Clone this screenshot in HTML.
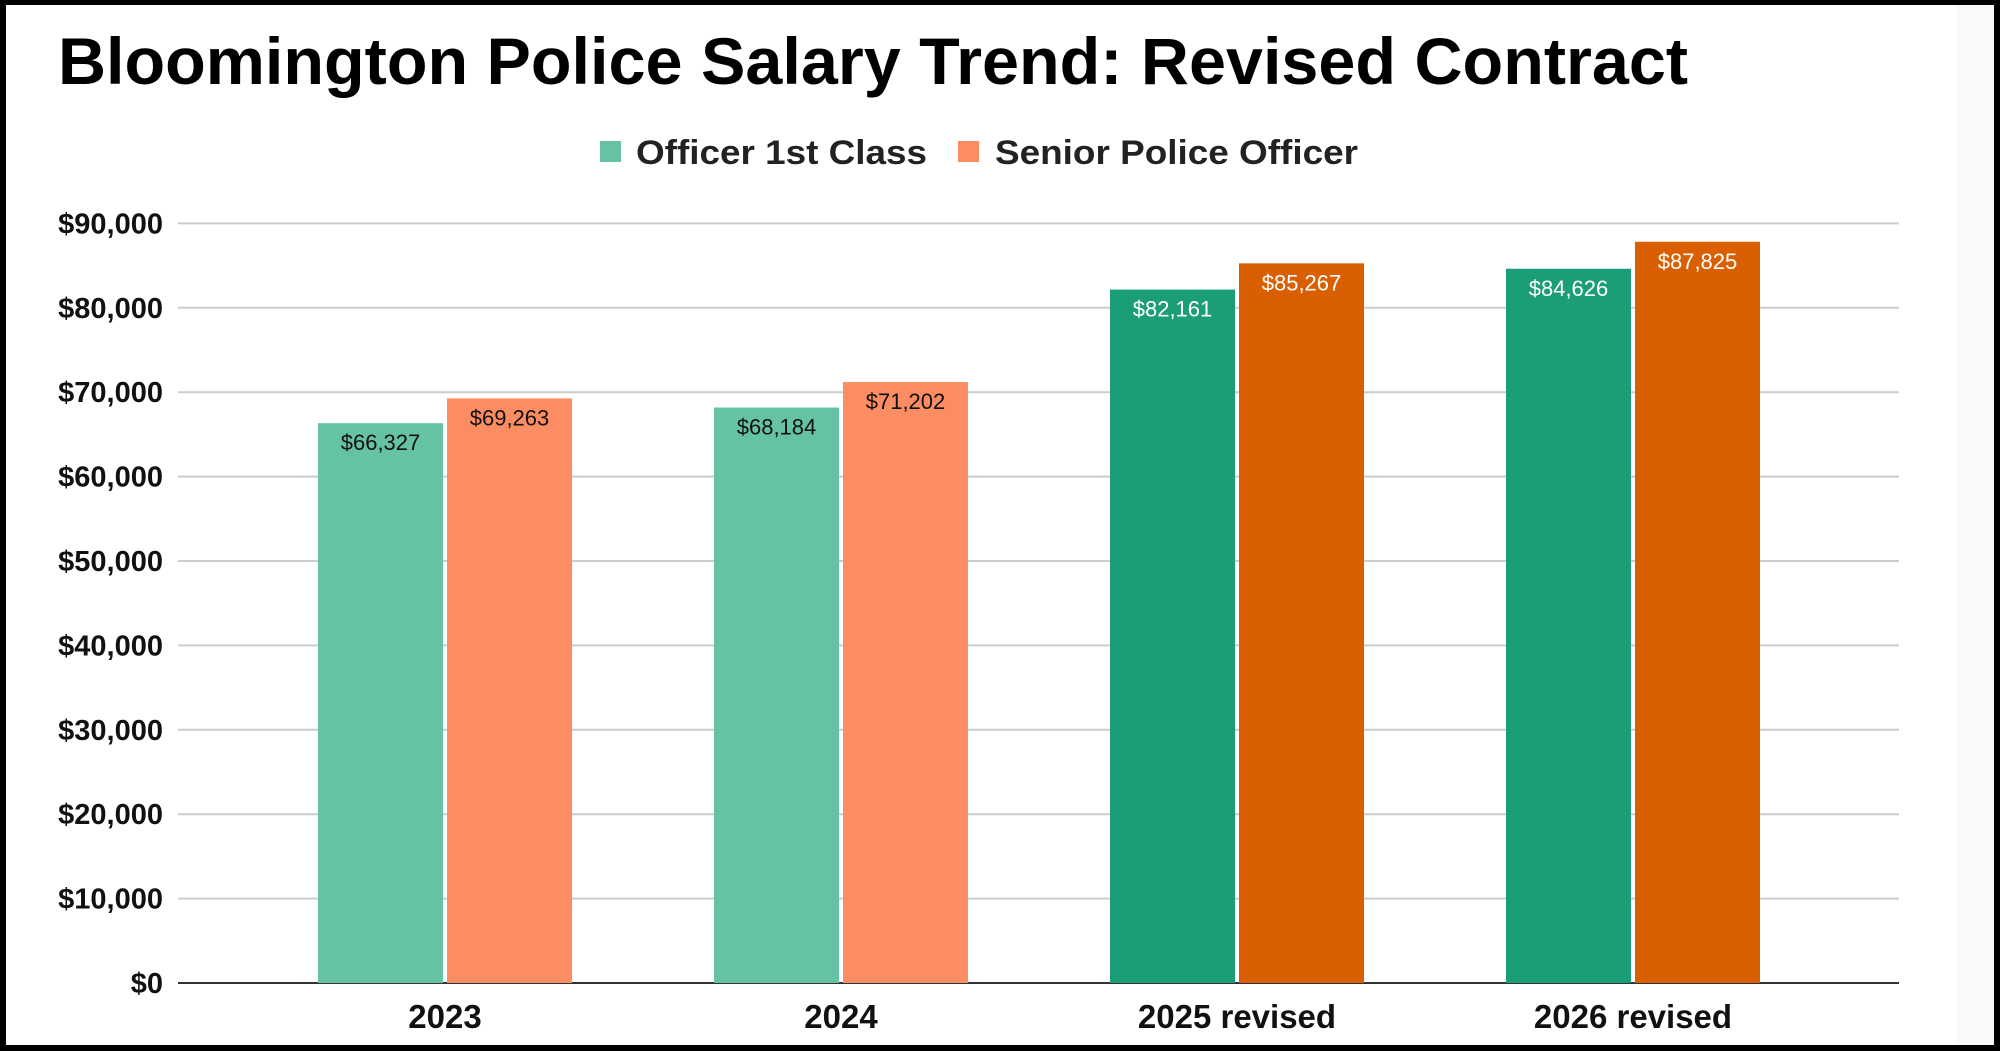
<!DOCTYPE html>
<html><head><meta charset="utf-8"><style>
html,body{margin:0;padding:0;background:#fff}
svg{display:block}
text{font-family:"Liberation Sans",Arial,sans-serif}
</style></head><body>
<svg id="chart" width="2000" height="1051" viewBox="0 0 2000 1051">
<rect x="0" y="0" width="2000" height="1051" fill="#000"/>
<rect x="6" y="5" width="1988" height="1040" fill="#fff"/>
<rect x="1957" y="5" width="37" height="1040" fill="#f8f9fb"/>
<text x="58" y="84" font-size="66" font-weight="bold" fill="#000" textLength="1630" lengthAdjust="spacingAndGlyphs">Bloomington Police Salary Trend: Revised Contract</text>
<g>
<rect x="600" y="141" width="21" height="21" fill="#66c2a5"/>
<text x="636" y="164" font-size="34" font-weight="bold" fill="#222" textLength="291" lengthAdjust="spacingAndGlyphs">Officer 1st Class</text>
<rect x="958" y="141" width="21" height="21" fill="#fc8d62"/>
<text x="995" y="164" font-size="34" font-weight="bold" fill="#222" textLength="363" lengthAdjust="spacingAndGlyphs">Senior Police Officer</text>
</g>
<g id="grid"></g><g id="bars"></g><g id="labels"></g>
</svg>
<script>
const categories = ["2023", "2024", "2025 revised", "2026 revised"];
const officerValues = [66327, 68184, 82161, 84626];
const seniorValues = [69263, 71202, 85267, 87825];
const yTicks = [0, 10000, 20000, 30000, 40000, 50000, 60000, 70000, 80000, 90000];

const NS = "http://www.w3.org/2000/svg";
const y0 = 983, pxPer = 84.4 / 10000;
function yScale(v){ return y0 - v * pxPer; }
function xCenter(i){ return 445 + i * 396; }
function fmt(v){ return "$" + v.toLocaleString("en-US"); }
function mk(tag, attrs, parent){ const e = document.createElementNS(NS, tag); for (const k in attrs) e.setAttribute(k, attrs[k]); parent.appendChild(e); return e; }

const grid = document.getElementById("grid"), bars = document.getElementById("bars"), labels = document.getElementById("labels");
yTicks.forEach(t => {
  const y = yScale(t);
  const l = mk("line", {x1:178, x2:1899, y1:y, y2:y, stroke: t===0 ? "#333" : "#ccc", "stroke-width": 2}, grid);
  
  
  const tx = mk("text", {x:163, y:y+10, "text-anchor":"end", "font-size":29, "font-weight":"bold", fill:"#111"}, labels);
  tx.textContent = fmt(t);
  
  
});
const lightG = "#66c2a5", lightO = "#fc8d62", darkG = "#1b9e77", darkO = "#d95f02";
categories.forEach((c, i) => {
  const cx = xCenter(i);
  const dark = i >= 2;
  const series = [[officerValues[i], dark ? darkG : lightG, cx - 127, "bar-officer"], [seniorValues[i], dark ? darkO : lightO, cx + 2, "bar-senior"]];
  series.forEach(([v, col, x, nm]) => {
    const r = mk("rect", {x:x, y:yScale(v), width:125, height:y0 - yScale(v), fill:col}, bars);
    
    
    const vt = mk("text", {x:x+62.5, y:yScale(v)+27, "text-anchor":"middle", "font-size":22, fill: dark ? "#fff" : "#111"}, labels);
    vt.textContent = fmt(v);
    
    
  });
  const xt = mk("text", {x:cx, y:1028, "text-anchor":"middle", "font-size":33, "font-weight":"bold", fill:"#111"}, labels);
  xt.textContent = c;
  
  
});
</script>
</body></html>
